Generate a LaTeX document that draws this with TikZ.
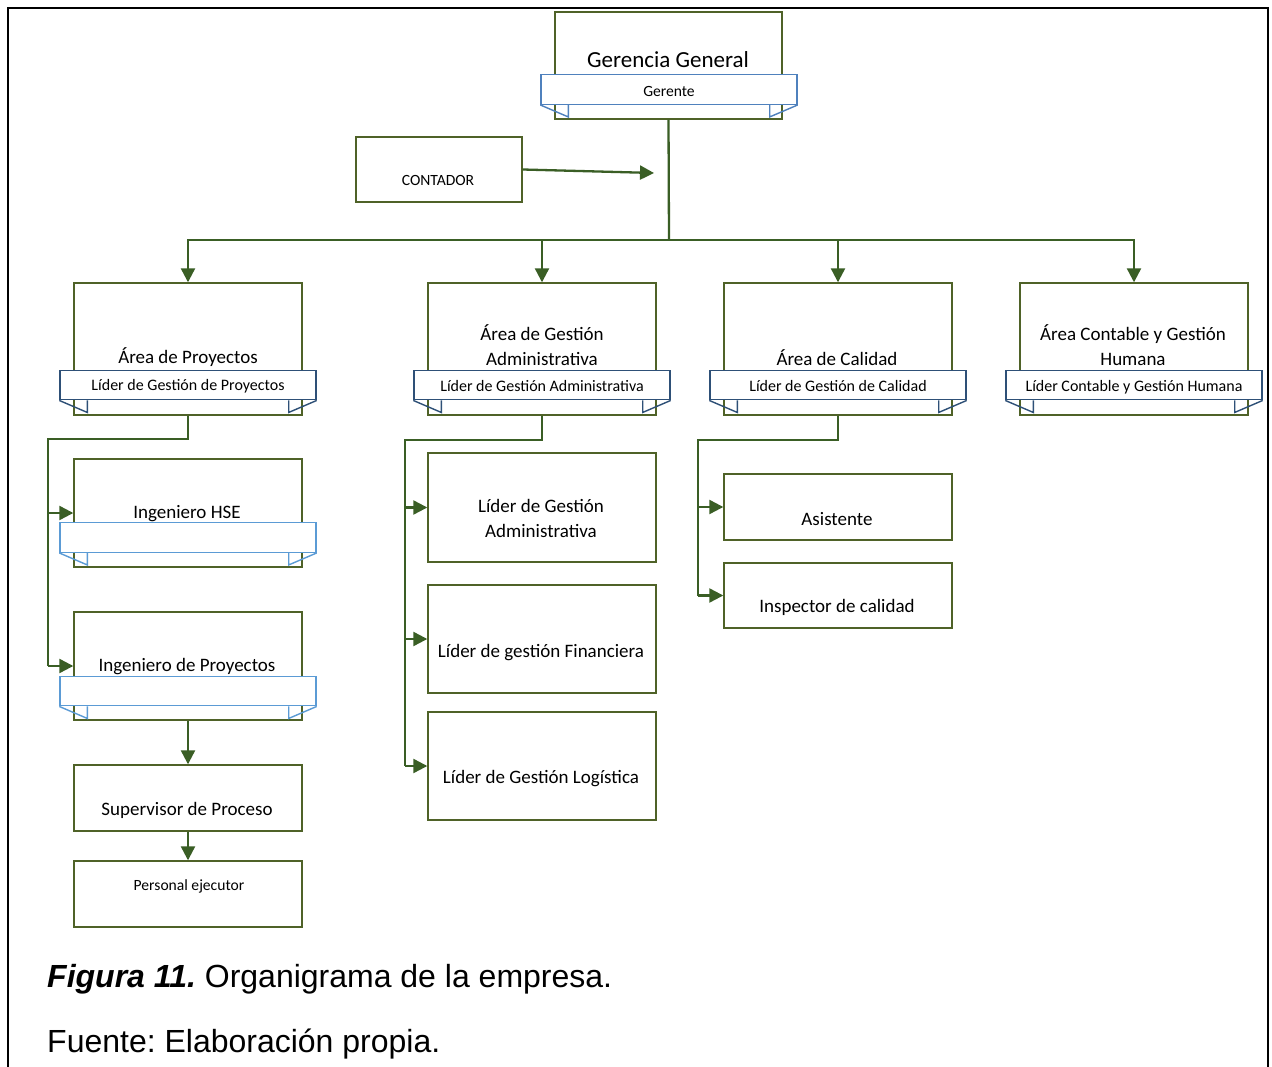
\documentclass[tikz,border=0pt]{standalone}
\usepackage{fontspec}
\setmainfont{Carlito}
\newfontfamily\capfont{Liberation Sans}
\usetikzlibrary{arrows.meta}
\frenchspacing

\definecolor{boxgreen}{HTML}{4F6228}
\definecolor{linegreen}{HTML}{3A5E25}
\definecolor{ribblue}{HTML}{4F81BD}
\definecolor{ribnavy}{HTML}{2E5077}
\definecolor{ribsky}{HTML}{5B9BD5}

\newcommand\orgtitlefont{\fontsize{23}{28}\selectfont}
\newcommand\orgmainfont{\fontsize{19}{24}\selectfont}
\newcommand\orgribfont{\fontsize{16}{20}\selectfont}
\newcommand\orgsmallfont{\fontsize{15.6}{19}\selectfont}

\tikzset{
  frameline/.style={draw=black, line width=2.6pt},
  orgbox/.style={draw=boxgreen, line width=1.4pt, fill=white, inner sep=0pt, minimum width=228pt},
  ribbon/.style={draw=#1, line width=1.4pt, fill=white, inner sep=0pt, minimum width=256pt, minimum height=29.5pt},
  tail/.style={draw=#1, line width=1.4pt},
  conn/.style={draw=linegreen, line width=2.3pt, line join=miter},
  arr/.style={conn, -{Triangle[length=14pt,width=14pt]}},
  lbl/.style={inner sep=0pt, anchor=base, font=\orgmainfont},
  riblbl/.style={inner sep=0pt, anchor=base, font=\orgribfont},
  smalllbl/.style={inner sep=0pt, anchor=base, font=\orgsmallfont},
}

% folded ends under a ribbon node
\newcommand\ribtails[2]{%
  \draw[tail=#2] (#1.south west) -- ++(28,12) -- ++(0,-12);
  \draw[tail=#2] (#1.south east) -- ++(-28,12) -- ++(0,-12);
}

\begin{document}
\begin{tikzpicture}[x=1pt,y=-1pt]
\useasboundingbox (0,0) rectangle (1272,1067);
\fill[white] (0,0) rectangle (1272,1067);

% outer frame, open at the bottom
\draw[frameline] (8,1067) -- (8,8) -- (1268,8) -- (1268,1067);

% ---------- top level ----------
\node[orgbox, minimum width=227pt, minimum height=107pt] (gg) at (668.5,65.5) {};
\node[ribbon=ribblue] (ggr) at (669,89.5) {};
\ribtails{ggr}{ribblue}
\node[lbl, font=\orgtitlefont] (ggt) at (668,68) {Gerencia General};
\node[smalllbl] (ggrt) at (669,96.5) {Gerente};

\node[orgbox, minimum width=166pt, minimum height=65pt] (cont) at (439,169.5) {};
\node[smalllbl] (contt) at (438,186) {CONTADOR};

% ---------- areas ----------
\foreach \n/\x in {a1/188, a2/542, a3/838, a4/1134}{
  \node[orgbox, minimum height=132pt] (\n) at (\x,349) {};
  \node[ribbon=ribnavy] (\n r) at (\x,385) {};
  \ribtails{\n r}{ribnavy}
}
\node[lbl] (a1t) at (188,363) {Área de Proyectos};
\node[riblbl] (a1rt) at (188,390.5) {Líder de Gestión de Proyectos};
\node[lbl] (a2t1) at (542,341) {Área de Gestión};
\node[lbl] (a2t2) at (542,365) {Administrativa};
\node[riblbl] (a2rt) at (542,391) {Líder de Gestión Administrativa};
\node[lbl] (a3t) at (837,365) {Área de Calidad};
\node[riblbl] (a3rt) at (838,391) {Líder de Gestión de Calidad};
\node[lbl] (a4t1) at (1133,341) {Área Contable y Gestión};
\node[lbl] (a4t2) at (1133,365) {Humana};
\node[riblbl] (a4rt) at (1134,391) {Líder Contable y Gestión Humana};

% ---------- project branch ----------
\node[orgbox, minimum height=108pt] (hse) at (188,513) {};
\node[ribbon=ribsky] (hser) at (188,537.5) {};
\ribtails{hser}{ribsky}
\node[lbl] (hset) at (187,518) {Ingeniero HSE};

\node[orgbox, minimum height=108pt] (ingp) at (188,666) {};
\node[ribbon=ribsky] (ingpr) at (188,691) {};
\ribtails{ingpr}{ribsky}
\node[lbl] (ingpt) at (187,671) {Ingeniero de Proyectos};

\node[orgbox, minimum height=66pt] (sup) at (188,798) {};
\node[lbl] (supt) at (187,815) {Supervisor de Proceso};
\node[orgbox, minimum height=66pt] (pers) at (188,894) {};
\node[smalllbl] (perst) at (189,890) {Personal ejecutor};

% ---------- administrative branch ----------
\node[orgbox, minimum height=109pt] (lga) at (542,507.5) {};
\node[lbl] (lgat1) at (541,512) {Líder de Gestión};
\node[lbl] (lgat2) at (541,537) {Administrativa};
\node[orgbox, minimum height=108pt] (lgf) at (542,639) {};
\node[lbl] (lgft) at (541,657) {Líder de gestión Financiera};
\node[orgbox, minimum height=108pt] (lgl) at (542,766) {};
\node[lbl] (lglt) at (541,783) {Líder de Gestión Logística};

% ---------- quality branch ----------
\node[orgbox, minimum height=66pt] (asis) at (838,507) {};
\node[lbl] (asist) at (837,525) {Asistente};
\node[orgbox, minimum height=65pt] (insp) at (838,595.5) {};
\node[lbl] (inspt) at (837,612) {Inspector de calidad};

% ---------- connectors ----------
\coordinate (contend) at (654,173);
\draw[arr] (cont.east) -- (contend);

\coordinate (bus) at (669,240);
\draw[conn] (gg.south) -- (bus);
\draw[arr] (bus) -| (a1.north);
\draw[arr] (bus) -| (a4.north);
\draw[arr] (a2.north |- bus) -- (a2.north);
\draw[arr] (a3.north |- bus) -- (a3.north);

\coordinate (b1) at (48,439);
\draw[conn] (a1.south) |- (b1) -- (b1 |- ingp.west);
\draw[arr] (b1 |- hse.west) -- (hse.west);
\draw[arr] (b1 |- ingp.west) -- (ingp.west);
\draw[arr] (ingp.south) -- (sup.north);
\draw[arr] (sup.south) -- (pers.north);

\coordinate (b2) at (405,440);
\draw[conn] (a2.south) |- (b2) -- (b2 |- lgl.west);
\draw[arr] (b2 |- lga.west) -- (lga.west);
\draw[arr] (b2 |- lgf.west) -- (lgf.west);
\draw[arr] (b2 |- lgl.west) -- (lgl.west);

\coordinate (b3) at (698,440);
\draw[conn] (a3.south) |- (b3) -- (b3 |- insp.west);
\draw[arr] (b3 |- asis.west) -- (asis.west);
\draw[arr] (b3 |- insp.west) -- (insp.west);

% ---------- caption ----------
\node[inner sep=0pt, anchor=base west, font=\capfont\fontsize{32}{38}\selectfont] (cap) at (47,987)
  {\textbf{\textit{Figura 11.}} Organigrama de la empresa.};
\node[inner sep=0pt, anchor=base west, font=\capfont\fontsize{32}{38}\selectfont] (src) at (47,1052)
  {Fuente: Elaboración propia.};
\end{tikzpicture}
\end{document}
